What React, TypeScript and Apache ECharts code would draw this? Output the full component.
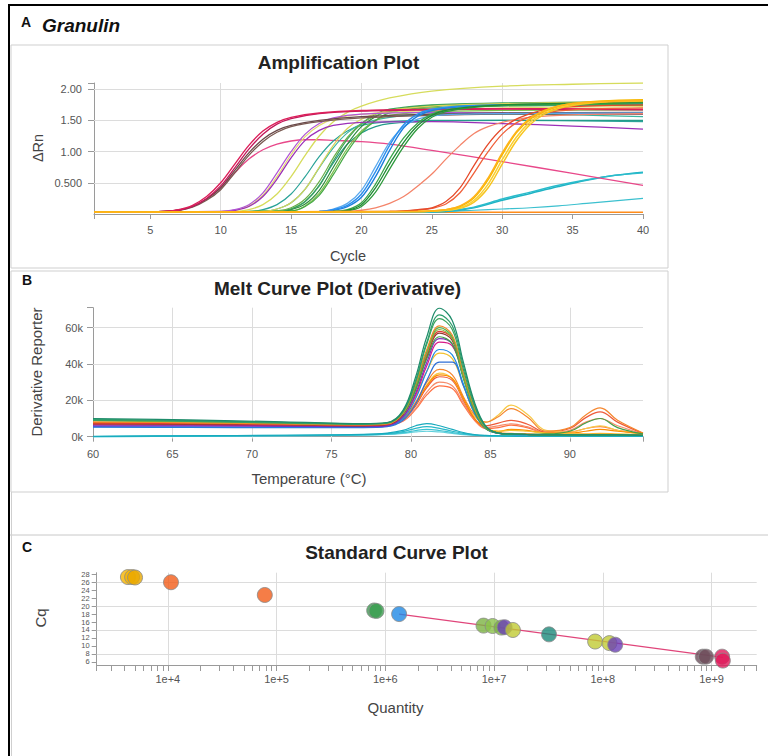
import React, { useEffect, useRef } from "react";
import * as echarts from "echarts";

const FONT = "'Liberation Sans', Arial, Helvetica, sans-serif";

// ---------------- Panel A: Amplification plot ----------------
const CYCLE_TICKS = [1, 5, 10, 15, 20, 25, 30, 35, 40];
const CYCLE_LABELS = [5, 10, 15, 20, 25, 30, 35, 40];
const CYCLE_GRID = [10, 20, 30];
const DRN_TICKS = [0.5, 1.0, 1.5, 2.0];
const DRN_TICK_LABELS = ["0.500", "1.00", "1.50", "2.00"];

const AMP_CRIMSON_1 = [[1,0.03],[6,0.04],[7,0.07],[8,0.14],[9,0.28],[10,0.5],[11,0.8],[12,1.1],[13,1.33],[14,1.47],[15,1.55],[17,1.62],[20,1.66],[25,1.68],[30,1.69],[40,1.68]];
const AMP_CRIMSON_2 = [[1,0.03],[6,0.04],[7,0.06],[8,0.12],[9,0.25],[10,0.45],[11,0.74],[12,1.04],[13,1.28],[14,1.44],[15,1.53],[17,1.61],[20,1.65],[25,1.67],[30,1.68],[40,1.67]];
const AMP_BROWN_1 = [[1,0.03],[6,0.04],[7,0.06],[8,0.12],[9,0.24],[10,0.42],[11,0.7],[12,0.98],[13,1.2],[14,1.34],[15,1.42],[17,1.5],[20,1.56],[25,1.6],[30,1.62],[40,1.63]];
const AMP_BROWN_2 = [[1,0.03],[6,0.04],[7,0.06],[8,0.11],[9,0.22],[10,0.39],[11,0.66],[12,0.94],[13,1.16],[14,1.31],[15,1.4],[17,1.48],[20,1.54],[25,1.58],[30,1.6],[40,1.6]];
const AMP_PINK = [[1,0.03],[6,0.04],[7,0.06],[8,0.12],[9,0.24],[10,0.42],[11,0.66],[12,0.88],[13,1.03],[14,1.12],[15,1.17],[16,1.19],[17,1.19],[18,1.18],[20,1.16],[22,1.12],[25,1.02],[30,0.84],[35,0.65],[40,0.46]];
const AMP_PURPLE = [[1,0.03],[10,0.04],[11,0.06],[12,0.12],[13,0.28],[14,0.56],[15,0.9],[16,1.18],[17,1.34],[18,1.42],[20,1.47],[25,1.48],[30,1.45],[35,1.41],[40,1.36]];
const AMP_VIOLET = [[1,0.03],[10,0.04],[11,0.07],[12,0.15],[13,0.34],[14,0.66],[15,1.0],[16,1.28],[17,1.45],[18,1.54],[20,1.6],[25,1.63],[30,1.62],[40,1.6]];
const AMP_YELLOW_TOP = [[1,0.03],[11,0.04],[12,0.07],[13,0.15],[14,0.32],[15,0.6],[16,0.94],[17,1.25],[18,1.48],[19,1.63],[20,1.73],[22,1.86],[25,1.97],[30,2.05],[35,2.08],[40,2.1]];
const AMP_YELLOW_2 = [[1,0.03],[10,0.04],[11,0.06],[12,0.13],[13,0.3],[14,0.6],[15,0.95],[16,1.24],[17,1.42],[18,1.52],[20,1.6],[25,1.66],[30,1.7],[40,1.72]];
const AMP_YELLOW_3 = [[1,0.03],[13,0.04],[14,0.08],[15,0.18],[16,0.4],[17,0.75],[18,1.1],[19,1.37],[20,1.52],[22,1.66],[25,1.73],[30,1.77],[40,1.8]];
const AMP_TEAL_1 = [[1,0.03],[12,0.04],[13,0.07],[14,0.15],[15,0.32],[16,0.6],[17,0.92],[18,1.17],[19,1.33],[20,1.42],[22,1.48],[25,1.5],[30,1.5],[40,1.48]];
const AMP_TEAL_2 = [[1,0.03],[13,0.04],[14,0.08],[15,0.18],[16,0.4],[17,0.74],[18,1.06],[19,1.3],[20,1.44],[22,1.55],[25,1.6],[30,1.6],[40,1.56]];
const AMP_TEAL_3 = [[1,0.03],[14,0.04],[15,0.08],[16,0.2],[17,0.46],[18,0.82],[19,1.12],[20,1.3],[21,1.4],[22,1.45],[25,1.49],[30,1.5],[40,1.5]];
const AMP_GREEN_1 = [[1,0.03],[14,0.04],[15,0.08],[16,0.2],[17,0.45],[18,0.85],[19,1.2],[20,1.45],[21,1.6],[22,1.68],[25,1.75],[30,1.78],[40,1.8]];
const AMP_GREEN_2 = [[1,0.03],[14,0.04],[15,0.07],[16,0.16],[17,0.38],[18,0.75],[19,1.12],[20,1.4],[21,1.56],[22,1.66],[25,1.74],[30,1.77],[40,1.79]];
const AMP_GREEN_3 = [[1,0.03],[15,0.05],[16,0.12],[17,0.3],[18,0.63],[19,1.0],[20,1.3],[21,1.5],[22,1.62],[25,1.72],[30,1.76],[40,1.78]];
const AMP_GREEN_4 = [[1,0.03],[15,0.05],[16,0.13],[17,0.33],[18,0.68],[19,1.05],[20,1.33],[21,1.5],[22,1.58],[25,1.64],[30,1.66],[40,1.67]];
const AMP_GREEN_5 = [[1,0.03],[14,0.05],[15,0.1],[16,0.24],[17,0.52],[18,0.9],[19,1.23],[20,1.45],[21,1.57],[22,1.64],[25,1.7],[30,1.73],[40,1.74]];
const AMP_BLUE_1 = [[1,0.03],[17,0.04],[18,0.07],[19,0.14],[20,0.32],[21,0.68],[22,1.1],[23,1.43],[24,1.6],[25,1.68],[27,1.73],[30,1.75],[40,1.77]];
const AMP_BLUE_2 = [[1,0.03],[17,0.04],[18,0.06],[19,0.12],[20,0.27],[21,0.6],[22,1.02],[23,1.38],[24,1.57],[25,1.66],[27,1.72],[30,1.74],[40,1.76]];
const AMP_BLUE_3 = [[1,0.03],[17,0.04],[18,0.08],[19,0.17],[20,0.38],[21,0.76],[22,1.15],[23,1.4],[24,1.52],[25,1.57],[27,1.6],[30,1.61],[40,1.62]];
const AMP_DKGREEN_1 = [[1,0.03],[18,0.04],[19,0.06],[20,0.15],[21,0.42],[22,0.8],[23,1.15],[24,1.42],[25,1.58],[26,1.66],[28,1.72],[30,1.75],[40,1.8]];
const AMP_DKGREEN_2 = [[1,0.03],[18,0.04],[19,0.05],[20,0.12],[21,0.35],[22,0.72],[23,1.08],[24,1.37],[25,1.55],[26,1.64],[28,1.71],[30,1.74],[40,1.78]];
const AMP_DKGREEN_3 = [[1,0.03],[18,0.04],[19,0.07],[20,0.18],[21,0.48],[22,0.88],[23,1.22],[24,1.46],[25,1.6],[26,1.67],[28,1.72],[30,1.74],[40,1.76]];
const AMP_SALMON = [[1,0.03],[19,0.04],[20,0.06],[21,0.1],[22,0.17],[23,0.28],[24,0.45],[25,0.64],[26,0.88],[27,1.1],[28,1.29],[29,1.4],[30,1.47],[32,1.55],[35,1.59],[40,1.61]];
const AMP_RED_1 = [[1,0.03],[22,0.04],[23,0.05],[24,0.07],[25,0.1],[26,0.2],[27,0.42],[28,0.78],[29,1.12],[30,1.37],[31,1.52],[32,1.61],[33,1.67],[35,1.72],[40,1.75]];
const AMP_RED_2 = [[1,0.03],[22,0.04],[24,0.06],[25,0.09],[26,0.16],[27,0.34],[28,0.66],[29,1.0],[30,1.28],[31,1.46],[32,1.56],[33,1.62],[35,1.67],[40,1.7]];
const AMP_GOLD_1 = [[1,0.03],[24,0.04],[25,0.05],[26,0.07],[27,0.12],[28,0.26],[29,0.55],[30,0.95],[31,1.3],[32,1.52],[33,1.65],[34,1.73],[35,1.77],[37,1.81],[40,1.83]];
const AMP_GOLD_2 = [[1,0.03],[24,0.04],[26,0.06],[27,0.1],[28,0.22],[29,0.48],[30,0.87],[31,1.23],[32,1.48],[33,1.63],[34,1.71],[35,1.76],[37,1.8],[40,1.82]];
const AMP_GOLD_3 = [[1,0.03],[24,0.04],[26,0.06],[27,0.09],[28,0.19],[29,0.42],[30,0.8],[31,1.17],[32,1.44],[33,1.6],[34,1.69],[35,1.74],[37,1.79],[40,1.81]];
const AMP_GOLD_4 = [[1,0.03],[24,0.04],[26,0.07],[27,0.13],[28,0.28],[29,0.58],[30,0.98],[31,1.32],[32,1.54],[33,1.66],[34,1.73],[35,1.77],[37,1.8],[40,1.82]];
const AMP_CYAN_1 = [[1,0.03],[22,0.03],[24,0.03],[26,0.04],[28,0.1],[30,0.22],[32,0.33],[34,0.44],[36,0.54],[38,0.62],[40,0.67]];
const AMP_CYAN_2 = [[1,0.03],[24,0.03],[26,0.05],[28,0.11],[30,0.24],[32,0.35],[34,0.46],[36,0.55],[38,0.62],[40,0.66]];
const AMP_CYAN_3 = [[1,0.03],[24,0.03],[26,0.04],[28,0.06],[30,0.08],[32,0.1],[34,0.13],[36,0.17],[38,0.21],[40,0.25]];
const AMP_ORANGE_FLAT = [[1,0.03],[10,0.03],[20,0.03],[30,0.03],[40,0.03]];

const AMP_CURVES: [number[][], string, number][] = [
  [AMP_ORANGE_FLAT, "#ff8c1a", 1.5],
  [AMP_CYAN_3, "#3cc0cf", 1.2],
  [AMP_CYAN_1, "#1fb3c4", 1.6],
  [AMP_CYAN_2, "#2bbccc", 1.4],
  [AMP_PINK, "#e8488a", 1.3],
  [AMP_TEAL_1, "#2aa398", 1.2],
  [AMP_TEAL_2, "#3bb5a0", 1.2],
  [AMP_TEAL_3, "#239b8a", 1.2],
  [AMP_GREEN_4, "#7cbf4a", 1.2],
  [AMP_GREEN_3, "#45a845", 1.2],
  [AMP_GREEN_2, "#2e8b3e", 1.2],
  [AMP_GREEN_1, "#3da35a", 1.2],
  [AMP_GREEN_5, "#6ab04c", 1.2],
  [AMP_YELLOW_3, "#d8d35a", 1.2],
  [AMP_YELLOW_2, "#e3dc6e", 1.2],
  [AMP_YELLOW_TOP, "#d6dc5c", 1.3],
  [AMP_PURPLE, "#9b30b8", 1.3],
  [AMP_VIOLET, "#b055d6", 1.2],
  [AMP_BROWN_2, "#7a5a52", 1.3],
  [AMP_BROWN_1, "#6a4a4a", 1.3],
  [AMP_CRIMSON_2, "#c2185b", 1.3],
  [AMP_CRIMSON_1, "#dc1f5a", 1.4],
  [AMP_BLUE_3, "#5aa9ee", 1.3],
  [AMP_BLUE_2, "#1e7fdc", 1.4],
  [AMP_BLUE_1, "#2a8ff0", 1.4],
  [AMP_DKGREEN_2, "#2e9a3c", 1.3],
  [AMP_DKGREEN_3, "#3aa64a", 1.3],
  [AMP_DKGREEN_1, "#1f8a34", 1.3],
  [AMP_SALMON, "#f4846a", 1.3],
  [AMP_RED_2, "#f0603a", 1.3],
  [AMP_RED_1, "#e64a2a", 1.3],
  [AMP_GOLD_3, "#f7c520", 1.5],
  [AMP_GOLD_2, "#f9cf30", 1.5],
  [AMP_GOLD_1, "#f5b800", 1.5],
  [AMP_GOLD_4, "#ffb31a", 1.5],
];

// ---------------- Panel B: Melt curve (derivative, in thousands) ----------------
const TEMP_TICKS = [60, 65, 70, 75, 80, 85, 90, 94.6];
const TEMP_LABELS = [60, 65, 70, 75, 80, 85, 90];
const TEMP_GRID = [65, 70, 75, 80, 85, 90];
const DERIV_TICKS = [0, 20, 40, 60];
const DERIV_GRID = [20, 40, 60];

const MELT_T = [60, 66, 72, 77, 78.5, 79.5, 80.3, 81, 81.8, 82.6, 83.3, 84, 84.7, 85.5, 86.3, 87.3, 88.5, 90, 91, 91.9, 93, 94.6];
const MELT_1 = [10, 9.2, 8.2, 7.2, 7.8, 14.5, 33, 55, 70.7, 64, 41, 19, 6, 2, 1.5, 1.2, 1, 1, 1, 1, 1, 0.8];
const MELT_2 = [9.5, 8.8, 7.8, 7, 7.6, 14, 31, 52, 67, 61, 39, 18, 5.5, 2, 1.5, 1.2, 1, 1, 1, 1, 1, 0.8];
const MELT_3 = [9, 8.4, 7.5, 6.8, 7.4, 13.5, 30, 51, 65, 59, 37, 17, 5.2, 2, 1.4, 1.1, 1, 1, 1, 1, 1, 0.8];
const MELT_4 = [8.2, 7.6, 7, 6.5, 7, 13, 29, 48, 61, 56, 35, 16, 5, 2.2, 1.8, 1.4, 1.2, 1.2, 1.3, 1.3, 1.2, 1];
const MELT_5 = [9.5, 8.8, 7.8, 7, 7.5, 13, 28, 47, 60, 55, 34, 15, 5, 2, 1.5, 1.2, 1, 1, 1, 1, 1, 0.8];
const MELT_6 = [8.8, 8, 7.3, 6.8, 7.3, 12.8, 28, 46, 59, 54, 33, 15, 5, 2, 1.5, 1.2, 1, 1, 1, 1, 1, 0.8];
const MELT_7 = [7.5, 7.2, 6.8, 6.3, 6.9, 12.5, 27, 45, 58, 54, 34, 15.5, 5, 2, 1.6, 1.3, 1.2, 1.2, 1.2, 1.2, 1.1, 0.9];
const MELT_8 = [7, 6.8, 6.5, 6, 6.6, 12, 26, 44, 57, 53, 33, 15, 5, 2, 1.5, 1.2, 1.1, 1.1, 1.1, 1.1, 1, 0.8];
const MELT_9 = [6, 5.9, 5.7, 5.5, 6, 11, 24, 41, 54, 51, 33, 15, 5, 2, 1.5, 1.2, 1, 1, 1, 1, 1, 0.8];
const MELT_10 = [6.5, 6.3, 6, 5.8, 6.3, 11, 23, 39, 52, 50, 33, 15.5, 5, 2, 1.5, 1.2, 1, 1, 1, 1, 1, 0.8];
const MELT_11 = [5.5, 5.4, 5.3, 5.3, 5.8, 10, 21, 36, 48, 45, 29, 13, 4.5, 1.8, 1.3, 1.1, 1, 1, 1, 1, 1, 0.8];
const MELT_12 = [5.2, 5.1, 5, 5, 5.5, 9, 18, 31, 41, 41, 28, 13, 4.5, 1.8, 1.3, 1.1, 1, 1, 1, 1, 1, 0.8];
const MELT_13 = [7, 6.8, 6.6, 6.4, 6.8, 11, 22, 36, 46, 43, 28, 13, 5, 3, 3.5, 3, 2, 1.6, 1.6, 1.8, 1.5, 1.2];
const MELT_14 = [7.5, 7.2, 6.8, 6.3, 6.6, 10, 19, 30, 37, 34, 22, 12, 8, 11, 15.5, 11, 3, 5, 12, 15.9, 9, 2];
const MELT_15 = [7, 6.8, 6.5, 6.1, 6.4, 9.5, 18, 28.5, 35, 32, 21, 11, 8, 12, 17.4, 12.5, 3.5, 2.5, 4.5, 6, 3.5, 1.5];
const MELT_16 = [7.5, 7.2, 6.8, 6.3, 6.6, 9.5, 17, 27, 33, 31, 20, 10, 6, 7.5, 9, 7, 2.5, 4.5, 10.5, 13.7, 8, 1.8];
const MELT_17 = [6.8, 6.6, 6.3, 6, 6.3, 9, 15.5, 24.5, 30, 28, 18.5, 9.5, 5, 6, 7, 5.5, 2.2, 3.5, 8, 10, 6, 1.5];
const MELT_18 = [7, 6.8, 6.5, 6.1, 6.4, 8.5, 15, 23, 28, 26.5, 17.5, 9, 4.5, 5, 6.4, 5, 2, 2.5, 4.5, 5.5, 3.5, 1.5];
const MELT_19 = [9, 8.5, 7.6, 7, 7.5, 12.5, 26, 43, 55, 51, 32, 14, 4.5, 2, 1.5, 1.4, 1.5, 3, 7.5, 10, 5, 1.5];
const MELT_20 = [7.8, 7.5, 7, 6.5, 6.8, 10, 18, 28, 34, 32, 21, 10, 4.5, 3, 4, 3.5, 2, 2, 3, 4, 3, 1.8];
const MELT_CYAN_1 = [0.2, 0.5, 0.8, 1.3, 2, 3.5, 6, 7.2, 6, 4, 2.3, 1.2, 0.7, 0.5, 0.4, 0.3, 0.3, 0.3, 0.3, 0.3, 0.3, 0.3];
const MELT_CYAN_2 = [0.1, 0.4, 0.7, 1.1, 1.7, 2.8, 4.6, 5.5, 4.6, 3, 1.8, 1, 0.6, 0.4, 0.3, 0.3, 0.3, 0.3, 0.3, 0.3, 0.3, 0.3];
const MELT_CYAN_3 = [0, 0.3, 0.6, 1, 1.4, 2.2, 3.4, 4, 3.4, 2.3, 1.4, 0.8, 0.5, 0.3, 0.2, 0.2, 0.2, 0.2, 0.2, 0.2, 0.2, 0.2];
const MELT_CYAN_4 = [0, 0.2, 0.5, 0.8, 1.2, 1.8, 2.6, 3, 2.6, 1.8, 1.1, 0.7, 0.4, 0.2, 0.2, 0.2, 0.2, 0.2, 0.2, 0.2, 0.2, 0.2];

const MELT_CURVES: [number[], string][] = [
  [MELT_CYAN_4, "#5fd0dc"],
  [MELT_CYAN_3, "#3cc3d2"],
  [MELT_CYAN_2, "#26b8c8"],
  [MELT_CYAN_1, "#17aabd"],
  [MELT_18, "#ff7043"],
  [MELT_17, "#f58c6b"],
  [MELT_16, "#ee5a3a"],
  [MELT_15, "#f7c948"],
  [MELT_14, "#f5862e"],
  [MELT_20, "#fb8c00"],
  [MELT_13, "#f2c230"],
  [MELT_12, "#2f6fd6"],
  [MELT_11, "#1e88e5"],
  [MELT_10, "#d81b86"],
  [MELT_9, "#7b2fbf"],
  [MELT_8, "#8d3b2f"],
  [MELT_7, "#e53935"],
  [MELT_19, "#43a047"],
  [MELT_6, "#8bb43a"],
  [MELT_5, "#4caf50"],
  [MELT_4, "#f28c28"],
  [MELT_3, "#3aa35b"],
  [MELT_2, "#2e9e6e"],
  [MELT_1, "#1e8c6a"],
];

// ---------------- Panel C: Standard curve ----------------
const QTY_MAJOR = [1e4, 1e5, 1e6, 1e7, 1e8, 1e9];
const QTY_MIN = 2220;
const QTY_MAX = 2.6e9;
const CQ_MIN = 5.2;
const CQ_MAX = 28.4;
const CQ_LABELS = [6, 8, 10, 12, 14, 16, 18, 20, 22, 24, 26, 28];
const CQ_GRID = [8, 14, 20, 26];

const SC_QTY = [4300, 4700, 5000, 10700, 78000, 790000, 830000, 1340000, 8.0e6, 9.7e6, 1.17e7, 1.25e7, 1.49e7, 3.2e7, 8.5e7, 1.15e8, 1.3e8, 8.3e8, 8.9e8, 1.25e9, 1.27e9];
const SC_CQ = [27.3, 27.3, 27.2, 26.0, 22.8, 18.9, 18.8, 18.0, 15.1, 15.0, 14.6, 14.7, 14.0, 12.9, 11.1, 10.7, 10.3, 7.3, 7.3, 7.3, 6.3];
const SC_COLORS = ["#f6b400", "#f6b400", "#e9a800", "#f25c19", "#f25c19", "#3a9d4f", "#3a9d4f", "#1e88e5", "#7cb342", "#8bc34a", "#7cb342", "#6a3fb5", "#c0ca33", "#1b8a7a", "#c0ca33", "#c0ca33", "#6a3fb5", "#6d4c5a", "#6d4c5a", "#e0195a", "#e0195a"];
const FIT_QTY = [1.34e6, 1.27e9];
const FIT_CQ = [18.0, 7.1];

function buildMinorTicks(): number[] {
  const out: number[] = [];
  for (let e = 3; e <= 9; e++) {
    for (let m = 1; m <= 9; m++) {
      const v = m * Math.pow(10, e);
      if (v >= QTY_MIN && v <= QTY_MAX) out.push(v);
    }
  }
  out.push(QTY_MIN, QTY_MAX);
  return out;
}

const AXIS_COLOR = "#9a9a9a";
const LABEL_COLOR = "#555";
const GRID_COLOR = "#dcdcdc";

function gridLines(x: number[], y: number[]) {
  return {
    silent: true,
    symbol: ["none", "none"],
    z: 1,
    label: { show: false },
    lineStyle: { color: GRID_COLOR, width: 1, type: "solid" },
    data: [...x.map((v) => ({ xAxis: v })), ...y.map((v) => ({ yAxis: v }))],
  };
}

function buildOption() {
  const series: any[] = [];
  series.push({ type: "line", xAxisIndex: 0, yAxisIndex: 0, data: [[1, -5]], showSymbol: false, lineStyle: { width: 0 }, z: 1, markLine: gridLines(CYCLE_GRID, DRN_TICKS) });
  series.push({ type: "line", xAxisIndex: 1, yAxisIndex: 1, data: [[60, -50]], showSymbol: false, lineStyle: { width: 0 }, z: 1, markLine: gridLines(TEMP_GRID, DERIV_GRID) });
  series.push({ type: "line", xAxisIndex: 2, yAxisIndex: 2, data: [[1e6, -50]], showSymbol: false, lineStyle: { width: 0 }, z: 1, markLine: gridLines(QTY_MAJOR, CQ_GRID) });

  AMP_CURVES.forEach(([pts, color, w]) => {
    series.push({
      type: "line", xAxisIndex: 0, yAxisIndex: 0, data: pts, showSymbol: false, smooth: 0.35,
      lineStyle: { color, width: w }, itemStyle: { color }, z: 3, silent: true,
    });
  });
  MELT_CURVES.forEach(([vals, color]) => {
    series.push({
      type: "line", xAxisIndex: 1, yAxisIndex: 1, data: MELT_T.map((t, i) => [t, vals[i]]), showSymbol: false, smooth: 0.4,
      lineStyle: { color, width: 1.2 }, itemStyle: { color }, z: 3, silent: true,
    });
  });
  series.push({
    type: "line", xAxisIndex: 2, yAxisIndex: 2, data: FIT_QTY.map((q, i) => [q, FIT_CQ[i]]), showSymbol: false,
    lineStyle: { color: "#e0457a", width: 1.3 }, z: 3, silent: true,
  });
  series.push({
    type: "scatter", xAxisIndex: 2, yAxisIndex: 2, symbolSize: 15, z: 4, silent: true,
    data: SC_QTY.map((q, i) => ({ value: [q, SC_CQ[i]], itemStyle: { color: SC_COLORS[i], borderColor: "#8a8a8a", borderWidth: 1 } })),
  });

  const axisBase = {
    axisLine: { show: true, lineStyle: { color: AXIS_COLOR, width: 1 } },
    splitLine: { show: false },
  };

  const text = (t: string, x: number, y: number, size: number, opts: any = {}) => ({
    type: "text", x, y, silent: true, rotation: opts.rotation || 0,
    style: { text: t, font: `${opts.style || "normal"} ${opts.weight || "normal"} ${size}px ${FONT}`, fill: opts.color || "#222", align: opts.align || "left", verticalAlign: "middle" },
  });

  return {
    animation: false,
    backgroundColor: "#ffffff",
    grid: [
      { left: 94, top: 83, width: 549, height: 131 },
      { left: 93, top: 307.7, width: 550, height: 130.8 },
      { left: 96.7, top: 572.7, width: 660, height: 92.3 },
    ],
    xAxis: [
      { ...axisBase, type: "value", gridIndex: 0, min: 1, max: 40,
        axisTick: { show: true, length: 5, customValues: CYCLE_TICKS, lineStyle: { color: AXIS_COLOR } },
        axisLabel: { customValues: CYCLE_LABELS, color: LABEL_COLOR, fontSize: 11, margin: 10, fontFamily: FONT } },
      { ...axisBase, type: "value", gridIndex: 1, min: 60, max: 94.6,
        axisTick: { show: true, length: 5, customValues: TEMP_TICKS, lineStyle: { color: AXIS_COLOR } },
        axisLabel: { customValues: TEMP_LABELS, color: LABEL_COLOR, fontSize: 11, margin: 10, fontFamily: FONT } },
      { ...axisBase, type: "log", logBase: 10, gridIndex: 2, min: QTY_MIN, max: QTY_MAX,
        axisTick: { show: true, length: 6, customValues: buildMinorTicks(), lineStyle: { color: AXIS_COLOR } },
        axisLabel: { customValues: QTY_MAJOR, color: LABEL_COLOR, fontSize: 11, margin: 8, fontFamily: FONT,
          formatter: (v: number) => "1e+" + Math.round(Math.log10(v)) } },
    ],
    yAxis: [
      { ...axisBase, type: "value", gridIndex: 0, min: 0, max: 2.1,
        axisTick: { show: true, length: 6, customValues: [...DRN_TICKS, 2.1], lineStyle: { color: AXIS_COLOR } },
        axisLabel: { customValues: DRN_TICKS, color: LABEL_COLOR, fontSize: 11, margin: 12, fontFamily: FONT,
          formatter: (v: number) => DRN_TICK_LABELS[DRN_TICKS.indexOf(v)] ?? "" } },
      { ...axisBase, type: "value", gridIndex: 1, min: -1, max: 71,
        axisTick: { show: true, length: 6, customValues: [...DERIV_TICKS, 71], lineStyle: { color: AXIS_COLOR } },
        axisLabel: { customValues: DERIV_TICKS, color: LABEL_COLOR, fontSize: 11, margin: 10, fontFamily: FONT,
          formatter: (v: number) => v + "k" } },
      { ...axisBase, type: "value", gridIndex: 2, min: CQ_MIN, max: CQ_MAX,
        axisTick: { show: true, length: 5, customValues: CQ_LABELS, lineStyle: { color: AXIS_COLOR } },
        axisLabel: { customValues: CQ_LABELS, color: LABEL_COLOR, fontSize: 7.5, lineHeight: 7.5, margin: 7, fontFamily: FONT,
          showMinLabel: true, showMaxLabel: true } },
    ],
    series,
    graphic: [
      { type: "rect", silent: true, z: -1, shape: { x: 11, y: 45, width: 657, height: 223 }, style: { fill: "none", stroke: "#cfcfcf", lineWidth: 1 } },
      { type: "rect", silent: true, z: -1, shape: { x: 11, y: 271, width: 657, height: 221 }, style: { fill: "none", stroke: "#cfcfcf", lineWidth: 1 } },
      { type: "line", silent: true, shape: { x1: 10, y1: 535, x2: 768, y2: 535 }, style: { stroke: "#c8c8c8", lineWidth: 1 } },
      { type: "line", silent: true, shape: { x1: 11.5, y1: 492, x2: 11.5, y2: 756 }, style: { stroke: "#cfcfcf", lineWidth: 1 } },
      { type: "line", silent: true, shape: { x1: 8, y1: 5, x2: 768, y2: 5 }, style: { stroke: "#000", lineWidth: 2 } },
      { type: "line", silent: true, shape: { x1: 9, y1: 4, x2: 9, y2: 756 }, style: { stroke: "#000", lineWidth: 2 } },
      text("A", 21, 21.7, 14, { weight: "bold", color: "#111" }),
      text("Granulin", 42, 25, 19, { weight: "bold", style: "italic", color: "#111" }),
      text("B", 22, 280, 14, { weight: "bold", color: "#111" }),
      text("C", 22, 546.7, 14, { weight: "bold", color: "#111" }),
      text("Amplification Plot", 338.5, 62.7, 19, { weight: "bold", align: "center" }),
      text("Melt Curve Plot (Derivative)", 337.5, 288.3, 19, { weight: "bold", align: "center" }),
      text("Standard Curve Plot", 396.5, 552, 19, { weight: "bold", align: "center" }),
      text("Cycle", 348, 256, 14.5, { align: "center", color: "#444" }),
      text("ΔRn", 38, 148, 14.5, { align: "center", rotation: Math.PI / 2, color: "#444" }),
      text("Temperature (°C)", 309, 478.5, 15, { align: "center", color: "#444" }),
      text("Derivative Reporter", 36, 372, 15, { align: "center", rotation: Math.PI / 2, color: "#444" }),
      text("Quantity", 395.5, 707, 15, { align: "center", color: "#444" }),
      text("Cq", 40, 618, 15, { align: "center", rotation: Math.PI / 2, color: "#444" }),
    ],
  };
}

export default function App() {
  const ref = useRef<HTMLDivElement>(null);
  useEffect(() => {
    if (!ref.current) return;
    const chart = echarts.init(ref.current, null, { renderer: "svg" });
    chart.setOption(buildOption() as any);
    return () => chart.dispose();
  }, []);
  return (
    <div
      ref={ref}
      style={{ position: "fixed", left: 0, top: 0, width: 768, height: 756, background: "#fff" }}
    />
  );
}
